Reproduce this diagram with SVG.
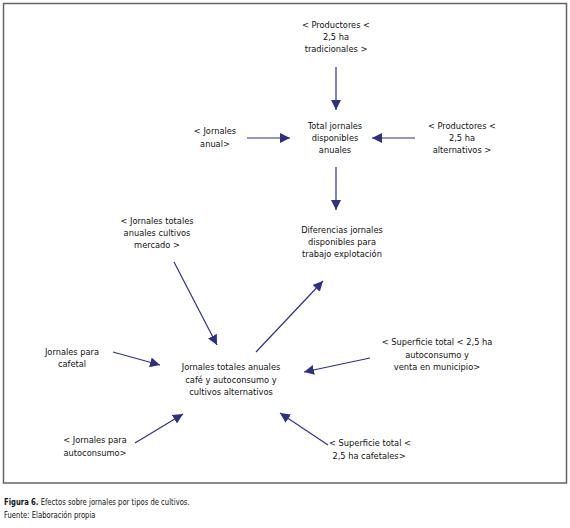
<svg xmlns="http://www.w3.org/2000/svg" width="570" height="528" viewBox="0 0 570 528">
<style>
.t{font-family:"Liberation Sans Narrow","DejaVu Sans Condensed","Liberation Sans",sans-serif;font-size:9.2px;fill:#111;text-anchor:middle}
.c{font-family:"Liberation Sans Narrow","DejaVu Sans Condensed","Liberation Sans",sans-serif;font-size:9.5px;fill:#111}
.e{stroke:#2e3088;stroke-width:1.2;fill:none;marker-end:url(#ah)}
</style>
<defs>
<marker id="ah" viewBox="0 0 10 10" refX="10" refY="5" markerWidth="10" markerHeight="10" markerUnits="userSpaceOnUse" orient="auto">
<path d="M0,0 L10,5 L0,10 Z" fill="#2e3088"/>
</marker>
</defs>
<rect x="3.5" y="3.5" width="563" height="479.5" fill="#fff" stroke="#666" stroke-width="1.5"/>
<g id="connectors">
<line class="e" x1="336" y1="67" x2="336" y2="110"/>
<line class="e" x1="415" y1="138" x2="372" y2="138"/>
<line class="e" x1="247" y1="138" x2="290" y2="138"/>
<line class="e" x1="336" y1="167" x2="336" y2="210"/>
<line class="e" x1="174" y1="262" x2="217" y2="345"/>
<line class="e" x1="256" y1="352" x2="323" y2="281"/>
<line class="e" x1="113" y1="352" x2="160" y2="365"/>
<line class="e" x1="370" y1="358" x2="304" y2="372"/>
<line class="e" x1="328" y1="445" x2="280" y2="413"/>
<line class="e" x1="135" y1="443" x2="183" y2="414"/>
</g>
<g id="n_trad"><text class="t" x="336" y="28">&lt; Productores &lt;</text><text class="t" x="336" y="40">2,5 ha</text><text class="t" x="336" y="52">tradicionales &gt;</text></g>
<g id="n_total"><text class="t" x="335" y="129">Total jornales</text><text class="t" x="335" y="141">disponibles</text><text class="t" x="335" y="153">anuales</text></g>
<g id="n_alt"><text class="t" x="462" y="129">&lt; Productores &lt;</text><text class="t" x="462" y="141">2,5 ha</text><text class="t" x="462" y="153">alternativos &gt;</text></g>
<g id="n_anual"><text class="t" x="215" y="134">&lt; Jornales</text><text class="t" x="215" y="147">anual&gt;</text></g>
<g id="n_dif"><text class="t" x="342" y="233">Diferencias jornales</text><text class="t" x="342" y="245">disponibles para</text><text class="t" x="342" y="257">trabajo explotación</text></g>
<g id="n_mercado"><text class="t" x="157" y="224">&lt; Jornales totales</text><text class="t" x="157" y="236">anuales cultivos</text><text class="t" x="157" y="248">mercado &gt;</text></g>
<g id="n_center"><text class="t" x="231" y="370">Jornales totales anuales</text><text class="t" x="231" y="383">café y autoconsumo y</text><text class="t" x="231" y="395">cultivos alternativos</text></g>
<g id="n_cafetal"><text class="t" x="72" y="355">Jornales para</text><text class="t" x="72" y="367">cafetal</text></g>
<g id="n_sup1"><text class="t" x="437" y="345">&lt; Superficie total &lt; 2,5 ha</text><text class="t" x="437" y="357.5">autoconsumo y</text><text class="t" x="437" y="370">venta en municipio&gt;</text></g>
<g id="n_sup2"><text class="t" x="370" y="446">&lt; Superficie total &lt;</text><text class="t" x="369" y="459">2,5 ha cafetales&gt;</text></g>
<g id="n_auto"><text class="t" x="95" y="443">&lt; Jornales para</text><text class="t" x="95" y="456">autoconsumo&gt;</text></g>
<text class="c" transform="translate(4,505) scale(0.8,1)"><tspan font-weight="bold">Figura 6.</tspan> Efectos sobre jornales por tipos de cultivos.</text>
<text class="c" transform="translate(4,518) scale(0.8,1)">Fuente: Elaboración propia</text>
</svg>
